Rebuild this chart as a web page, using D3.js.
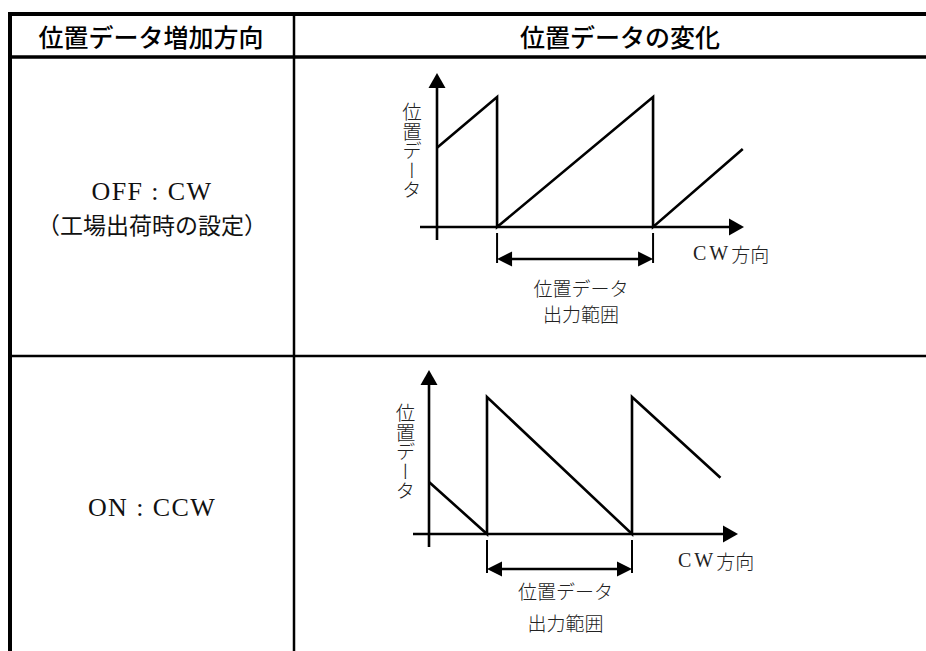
<!DOCTYPE html>
<html><head><meta charset="utf-8">
<script src="https://cdn.jsdelivr.net/npm/d3@7"></script>
<style>body{margin:0;background:#fff} svg{display:block}</style>
</head><body><svg id="c" width="926" height="651"></svg>
<script>
// ---- data ----
const headers = ["位置データ増加方向", "位置データの変化"];
const rowLabels = [["OFF : CW", "（工場出荷時の設定）"], ["ON : CCW"]];
const axisLabelY = "位置データ";
const axisLabelX = ["CW", "方向"];
const rangeLabel = ["位置データ", "出力範囲"];
// sawtooth: position (in periods) vs position data (fraction of max)
const cwX = [0, 0.385, 0.385, 1.385, 1.385, 1.96];
const cwY = [0.61, 1, 0, 1, 0, 0.6];
const ccwX = [0, 0.4, 0.4, 1.4, 1.4, 2.01];
const ccwY = [0.38, 0, 1, 0, 1, 0.41];
const cwRange = [0.385, 1.385];
const ccwRange = [0.4, 1.4];

// ---- layout ----
const svg = d3.select("#c");
const black = "#000";
const cjkSans = "'Noto Sans CJK JP', sans-serif";

// table lines
const T = {left: 10, top: 14, headerBottom: 57, divider: 294, rowDivider: 356, right: 926, bottom: 651};
svg.append("line").attr("x1", 8).attr("x2", T.right).attr("y1", T.top).attr("y2", T.top).attr("stroke", black).attr("stroke-width", 4);
svg.append("line").attr("x1", 8).attr("x2", T.right).attr("y1", T.headerBottom).attr("y2", T.headerBottom).attr("stroke", black).attr("stroke-width", 3.5);
svg.append("line").attr("x1", T.left).attr("x2", T.left).attr("y1", 12).attr("y2", T.bottom).attr("stroke", black).attr("stroke-width", 4);
svg.append("line").attr("x1", T.divider).attr("x2", T.divider).attr("y1", 12).attr("y2", T.bottom).attr("stroke", black).attr("stroke-width", 2.5);
svg.append("line").attr("x1", T.left).attr("x2", T.right).attr("y1", T.rowDivider).attr("y2", T.rowDivider).attr("stroke", black).attr("stroke-width", 2.5);

// headers
const headerX = [151, 620];
headers.forEach((h, i) => {
  svg.append("text").attr("x", headerX[i]).attr("y", 36).attr("text-anchor", "middle")
    .attr("dominant-baseline", "central").attr("font-family", cjkSans).attr("font-weight", 500)
    .attr("font-size", 25).attr("fill", "#000").text(h);
});

// row labels
svg.append("text").attr("x", 152).attr("y", 200).attr("text-anchor", "middle")
  .attr("font-family", "'Liberation Serif', serif").attr("font-size", 26).attr("letter-spacing", 1.4)
  .attr("fill", "#111").text(rowLabels[0][0]);
svg.append("text").attr("x", 152).attr("y", 224).attr("text-anchor", "middle")
  .attr("dominant-baseline", "central").attr("font-family", cjkSans).attr("font-size", 23)
  .attr("fill", "#111").text(rowLabels[0][1]);
svg.append("text").attr("x", 152).attr("y", 516).attr("text-anchor", "middle")
  .attr("font-family", "'Liberation Serif', serif").attr("font-size", 26).attr("letter-spacing", 1.4)
  .attr("fill", "#111").text(rowLabels[1][0]);

// panels
const panels = [
  {xs: cwX, ys: cwY, range: cwRange, ox: 437, oy: 227, xUnit: 156, yUnit: 130, yTop: 73, yBottom: 240, xLeft: 420, xRight: 744,
   cwLabelX: 693, yLabelX: 412, yLabelTop: 102, rl1: 60, rl2: 86, arrowDy: 32},
  {xs: ccwX, ys: ccwY, range: ccwRange, ox: 429, oy: 534, xUnit: 145, yUnit: 137, yTop: 370, yBottom: 547, xLeft: 413, xRight: 738,
   cwLabelX: 678, yLabelX: 405.5, yLabelTop: 403, rl1: 56, rl2: 88, arrowDy: 35}
];

const LW = 2.6, AH = 15, AW = 8.5;
panels.forEach(p => {
  const g = svg.append("g");
  const x = d3.scaleLinear().domain([0, 1]).range([p.ox, p.ox + p.xUnit]);
  const y = d3.scaleLinear().domain([0, 1]).range([p.oy, p.oy - p.yUnit]);

  // y axis with arrow
  g.append("line").attr("x1", x(0)).attr("x2", x(0)).attr("y1", p.yBottom).attr("y2", p.yTop + AH - 1)
    .attr("stroke", black).attr("stroke-width", LW);
  g.append("path").attr("d", `M${x(0)},${p.yTop} L${x(0) - AW},${p.yTop + AH} L${x(0) + AW},${p.yTop + AH} Z`).attr("fill", black);
  // x axis with arrow
  g.append("line").attr("x1", p.xLeft).attr("x2", p.xRight - AH + 1).attr("y1", y(0)).attr("y2", y(0))
    .attr("stroke", black).attr("stroke-width", LW);
  g.append("path").attr("d", `M${p.xRight},${y(0)} L${p.xRight - AH},${y(0) - AW} L${p.xRight - AH},${y(0) + AW} Z`).attr("fill", black);

  // sawtooth
  const pts = p.xs.map((v, i) => [v, p.ys[i]]);
  g.append("path").datum(pts)
    .attr("d", d3.line().x(d => x(d[0])).y(d => y(d[1])))
    .attr("fill", "none").attr("stroke", black).attr("stroke-width", LW).attr("stroke-linejoin", "miter");

  // output range bracket
  const r0 = x(p.range[0]), r1 = x(p.range[1]);
  const ay = p.oy + p.arrowDy;
  [r0, r1].forEach(rx => g.append("line").attr("x1", rx).attr("x2", rx).attr("y1", p.oy + 6).attr("y2", ay + 4)
    .attr("stroke", black).attr("stroke-width", 2));
  g.append("line").attr("x1", r0 + AH - 1).attr("x2", r1 - AH + 1).attr("y1", ay).attr("y2", ay)
    .attr("stroke", black).attr("stroke-width", LW);
  g.append("path").attr("d", `M${r0},${ay} L${r0 + AH},${ay - 7.5} L${r0 + AH},${ay + 7.5} Z`).attr("fill", black);
  g.append("path").attr("d", `M${r1},${ay} L${r1 - AH},${ay - 7.5} L${r1 - AH},${ay + 7.5} Z`).attr("fill", black);

  const cx = (r0 + r1) / 2 + 6;
  g.append("text").attr("x", cx).attr("y", p.oy + p.rl1).attr("text-anchor", "middle").attr("dominant-baseline", "central")
    .attr("font-family", cjkSans).attr("font-weight", 300).attr("font-size", 19).attr("fill", "#222").text(rangeLabel[0]);
  g.append("text").attr("x", cx).attr("y", p.oy + p.rl2).attr("text-anchor", "middle").attr("dominant-baseline", "central")
    .attr("font-family", cjkSans).attr("font-weight", 300).attr("font-size", 19).attr("fill", "#222").text(rangeLabel[1]);

  // x axis label
  const t = g.append("text").attr("x", p.cwLabelX).attr("y", p.oy + 26).attr("dominant-baseline", "central")
    .attr("font-size", 19).attr("fill", "#222");
  t.append("tspan").attr("font-family", "'Liberation Serif', serif").attr("letter-spacing", 3).attr("font-size", 20).text(axisLabelX[0]);
  t.append("tspan").attr("font-family", cjkSans).attr("font-weight", 300).text(axisLabelX[1]);

  // y axis label (vertical)
  g.append("text").attr("x", p.yLabelX).attr("y", p.yLabelTop)
    .attr("style", "writing-mode: vertical-rl;")
    .attr("font-family", cjkSans).attr("font-weight", 300).attr("font-size", 19.5).attr("fill", "#222")
    .text(axisLabelY);
});
</script></body></html>
